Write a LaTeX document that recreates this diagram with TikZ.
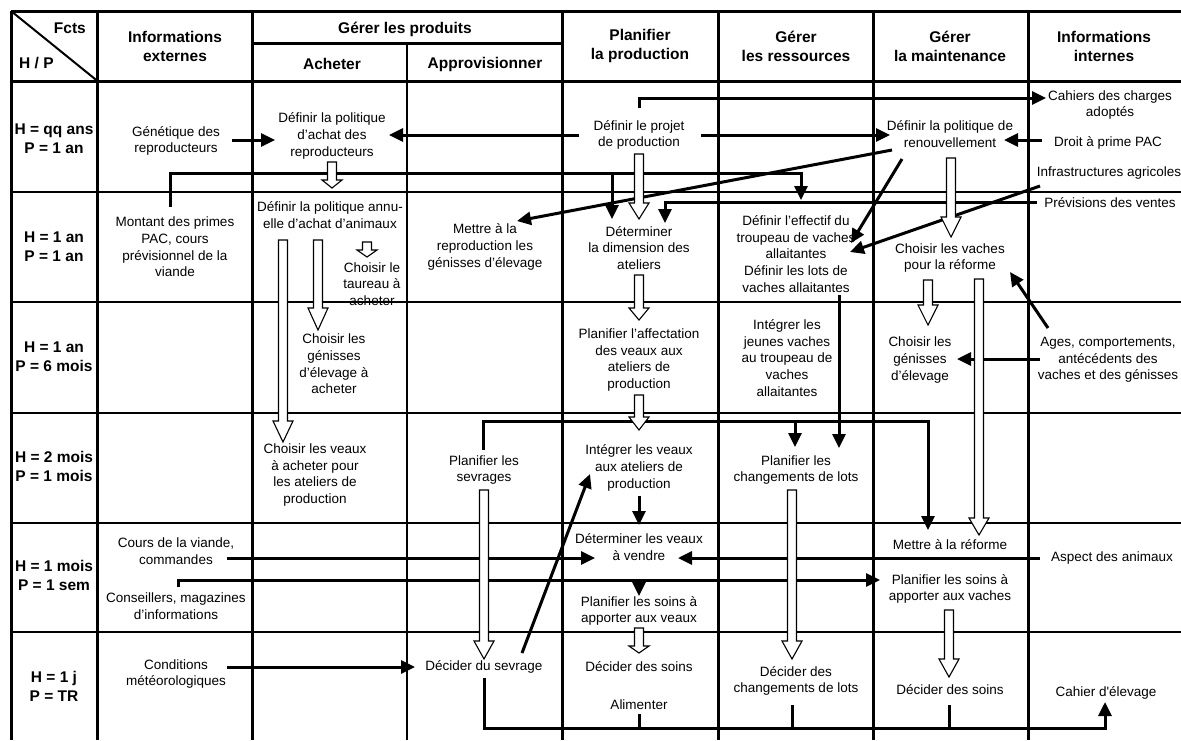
\documentclass[tikz,border=0pt]{standalone}
\usepackage{fontspec}
\setmainfont{Liberation Sans}
\usetikzlibrary{arrows.meta,calc}

\tikzset{
  lbl/.style={align=center, inner sep=0pt, font=\fontsize{13.5}{16.7}\selectfont},
  hdr/.style={align=center, inner sep=0pt, font=\fontsize{15.5}{19}\selectfont\bfseries},
  thickrule/.style={line width=3pt},
  thinrule/.style={line width=1.3pt},
  conn/.style={line width=3pt, -{Triangle[length=14pt,width=13pt]}},
  link/.style={line width=3pt},
  openarr/.style={draw=black, fill=white, line width=1.1pt, line join=miter}
}

% hollow arrow: [head length]{x}{top y}{tip y}
\newcommand{\openarrow}[4][20]{%
  \draw[openarr] (#2-4.5,#3) -- (#2+4.5,#3) -- (#2+4.5,#4-#1) -- (#2+10,#4-#1)
    -- (#2,#4) -- (#2-10,#4-#1) -- (#2-4.5,#4-#1) -- cycle;}

\begin{document}
\begin{tikzpicture}[x=1pt,y=-1pt]
  \useasboundingbox (0,0) rectangle (1181,740);

  % grid
  \draw[thickrule] (11,11) -- (1181,11);
  \draw[thickrule] (11,81) -- (1181,81);
  \draw[thickrule] (252,43.5) -- (562.5,43.5);
  \foreach \yy in {192,302,413,523,632}
    \draw[thinrule] (11,\yy) -- (1181,\yy);
  \foreach \xx in {11,97.5,252,562.5,718,873,1028}
    \draw[thickrule] (\xx,11) -- (\xx,740);
  \draw[thinrule] (407,43.5) -- (407,740);
  \draw[line width=2pt] (11,11) -- (97.5,81);

  % headers
  \node[hdr, anchor=east] (fcts) at (86,28) {Fcts};
  \node[hdr, anchor=west] (hp) at (19,63) {H / P};
  \node[hdr] (hinfext) at (175,46) {Informations\\externes};
  \node[hdr] (hgerer) at (405,29) {Gérer les produits};
  \node[hdr] (hacheter) at (332,64) {Acheter};
  \node[hdr] (happro) at (485,64) {Approvisionner};
  \node[hdr] (hplan) at (640,46) {Planifier\\la production};
  \node[hdr] (hress) at (796,46) {Gérer\\les ressources};
  \node[hdr] (hmaint) at (950,46) {Gérer\\la maintenance};
  \node[hdr] (hinfint) at (1104,46) {Informations\\internes};

  % horizons / periods
  \node[hdr] (r1) at (54,139) {H = qq ans\\P = 1 an};
  \node[hdr] (r2) at (54,247) {H = 1 an\\P = 1 an};
  \node[hdr] (r3) at (54,357) {H = 1 an\\P = 6 mois};
  \node[hdr] (r4) at (54,466) {H = 2 mois\\P = 1 mois};
  \node[hdr] (r5) at (54,575) {H = 1 mois\\P = 1 sem};
  \node[hdr] (r6) at (54,686) {H = 1 j\\P = TR};

  % activities and informations
  \node[lbl] (genet) at (176,141) {Génétique des\\reproducteurs};
  \node[lbl] (achrep) at (332,136) {Définir la politique\\d'achat des\\reproducteurs};
  \node[lbl] (projet) at (639,135) {Définir le projet\\de production};
  \node[lbl] (renouv) at (950,134) {Définir la politique de\\renouvellement};
  \node[lbl] (cahiers) at (1110,105) {Cahiers des charges\\adoptés};
  \node[lbl] (droit) at (1108,143) {Droit à prime PAC};
  \node[lbl] (infra) at (1109,173) {Infrastructures agricoles};

  \node[lbl] (montant) at (175,247) {Montant des primes\\PAC, cours\\prévisionnel de la\\viande};
  \node[lbl] (achann) at (330,215) {Définir la politique annu-\\elle d'achat d'animaux};
  \node[lbl] (taureau) at (372,284) {Choisir le\\taureau à\\acheter};
  \node[lbl] (mettrerep) at (485,247) {Mettre à la\\reproduction les\\génisses d'élevage};
  \node[lbl] (dimension) at (639,248) {Déterminer\\la dimension des\\ateliers};
  \node[lbl] (effectif) at (796,254) {Définir l'effectif du\\troupeau de vaches\\allaitantes\\Définir les lots de\\vaches allaitantes};
  \node[lbl] (previsions) at (1110,203) {Prévisions des ventes};
  \node[lbl] (choixref) at (950,258) {Choisir les vaches\\pour la réforme};

  \node[lbl] (genach) at (334,364) {Choisir les\\génisses\\d'élevage à\\acheter};
  \node[lbl] (affect) at (639,360) {Planifier l'affectation\\des veaux aux\\ateliers de\\production};
  \node[lbl] (integjeunes) at (787,358) {Intégrer les\\jeunes vaches\\au troupeau de\\vaches\\allaitantes};
  \node[lbl] (genelev) at (920,360) {Choisir les\\génisses\\d'élevage};
  \node[lbl] (ages) at (1108,360) {Ages, comportements,\\antécédents des\\vaches et des génisses};

  \node[lbl] (veauxach) at (315,475) {Choisir les veaux\\à acheter pour\\les ateliers de\\production};
  \node[lbl] (sevrages) at (484,470) {Planifier les\\sevrages};
  \node[lbl] (integveaux) at (639,468) {Intégrer les veaux\\aux ateliers de\\production};
  \node[lbl] (planchg) at (796,470) {Planifier les\\changements de lots};

  \node[lbl] (cours) at (176,551) {Cours de la viande,\\commandes};
  \node[lbl] (vendre) at (639,547) {Déterminer les veaux\\à vendre};
  \node[lbl] (reforme) at (950,545) {Mettre à la réforme};
  \node[lbl] (aspect) at (1112,558) {Aspect des animaux};
  \node[lbl] (conseil) at (176,606) {Conseillers, magazines\\d'informations};
  \node[lbl] (soinsveaux) at (639,611) {Planifier les soins à\\apporter aux veaux};
  \node[lbl] (soinsvaches) at (950,589) {Planifier les soins à\\apporter aux vaches};

  \node[lbl] (meteo) at (176,674) {Conditions\\météorologiques};
  \node[lbl] (sevrage) at (484,667) {Décider du sevrage};
  \node[lbl] (decsoinsv) at (639,667) {Décider des soins};
  \node[lbl] (alimenter) at (639,705) {Alimenter};
  \node[lbl] (decchg) at (796,681) {Décider des\\changements de lots};
  \node[lbl] (decsoinsc) at (950,690) {Décider des soins};
  \node[lbl] (cahier) at (1106,693) {Cahier d\textquotesingle élevage};

  % information flows
  \draw[conn] ($(genet.center)+(56,-1)$) -- ($(achrep.center)+(-57,4)$);
  \draw[conn] ($(projet.center)+(-60,0)$) -- ($(achrep.center)+(57,-1)$);
  \draw[conn] ($(projet.center)+(62,0)$) -- ($(renouv.center)+(-60,1)$);
  \draw[conn] ($(droit.center)+(-66,-3)$) -- ($(renouv.center)+(54,6)$);
  \draw[conn] ($(projet.center)+(0,-27)$) |- ($(cahiers.center)+(-64,-7)$);
  \draw[conn] ($(montant.center)+(-5,-40)$) |- ($(effectif.center)+(5,-81)$)
    -- ($(effectif.center)+(5,-54)$);
  \draw[conn] ($(dimension.center)+(-27,-75)$) -- ($(dimension.center)+(-27,-29)$);
  \draw[conn] ($(previsions.center)+(-73,-1)$) -| ($(dimension.center)+(26,-25)$);
  \draw[conn] ($(renouv.center)+(-58,16)$) -- ($(mettrerep.center)+(32,-26)$);
  \draw[conn] ($(renouv.center)+(-48,25)$) -- ($(effectif.center)+(55,-11)$);
  \draw[conn] ($(infra.center)+(-69,13)$) -- ($(effectif.center)+(54,-2)$);
  \draw[conn] ($(ages.center)+(-60,-32)$) -- ($(choixref.center)+(60,14)$);
  \draw[conn] ($(ages.center)+(-68,-1)$) -- ($(genelev.center)+(37,-1)$);
  \draw[conn] ($(effectif.center)+(43,41)$) -- ($(planchg.center)+(43,-22)$);
  \draw[conn] ($(sevrages.center)+(-1,-20)$) |- ($(reforme.center)+(-22,-124)$)
    -- ($(reforme.center)+(-22,-15)$);
  \draw[conn] ($(planchg.center)+(-1,-49)$) -- ($(planchg.center)+(-1,-23)$);
  \draw[conn] ($(integveaux.center)+(0,28)$) -- ($(vendre.center)+(0,-22)$);
  \draw[conn] ($(sevrage.center)+(38,-14)$) -- ($(integveaux.center)+(-49,6)$);
  \draw[conn] ($(cours.center)+(51,7)$) -- ($(vendre.center)+(-44,11)$);
  \draw[conn] ($(aspect.center)+(-72,0)$) -- ($(vendre.center)+(39,11)$);
  \draw[conn] ($(conseil.center)+(2,-19)$) |- ($(soinsvaches.center)+(-70,-9)$);
  \draw[conn] ($(soinsveaux.center)+(0,-31)$) -- ($(soinsveaux.center)+(0,-15)$);
  \draw[conn] ($(meteo.center)+(51,-7)$) -- ($(sevrage.center)+(-69,0)$);
  \draw[conn] ($(sevrage.center)+(0,11)$) |- ($(cahier.center)+(-1,35)$)
    -- ($(cahier.center)+(-1,9)$);
  \draw[link] ($(alimenter.center)+(0,9)$) -- ($(alimenter.center)+(0,23)$);
  \draw[link] ($(decchg.center)+(-4,24)$) -- ($(decchg.center)+(-4,47)$);
  \draw[link] ($(decsoinsc.center)+(-1,15)$) -- ($(decsoinsc.center)+(-1,38)$);

  % decision flows (hollow arrows)
  \openarrow[8]{332}{162}{188}
  \openarrow[16]{639}{154}{219}
  \openarrow{951}{158}{237}
  \openarrow[7]{367}{242}{257}
  \openarrow[21]{283}{240}{442}
  \openarrow[22]{318}{240}{330}
  \openarrow[12]{639}{275}{320}
  \openarrow{928}{280}{325}
  \openarrow[17]{979}{279}{535}
  \openarrow[13]{639}{395}{430}
  \openarrow[18]{484}{490}{659}
  \openarrow[18]{792}{490}{659}
  \openarrow[18]{949}{610}{677}
  \openarrow[7]{639}{628}{653}
\end{tikzpicture}
\end{document}
